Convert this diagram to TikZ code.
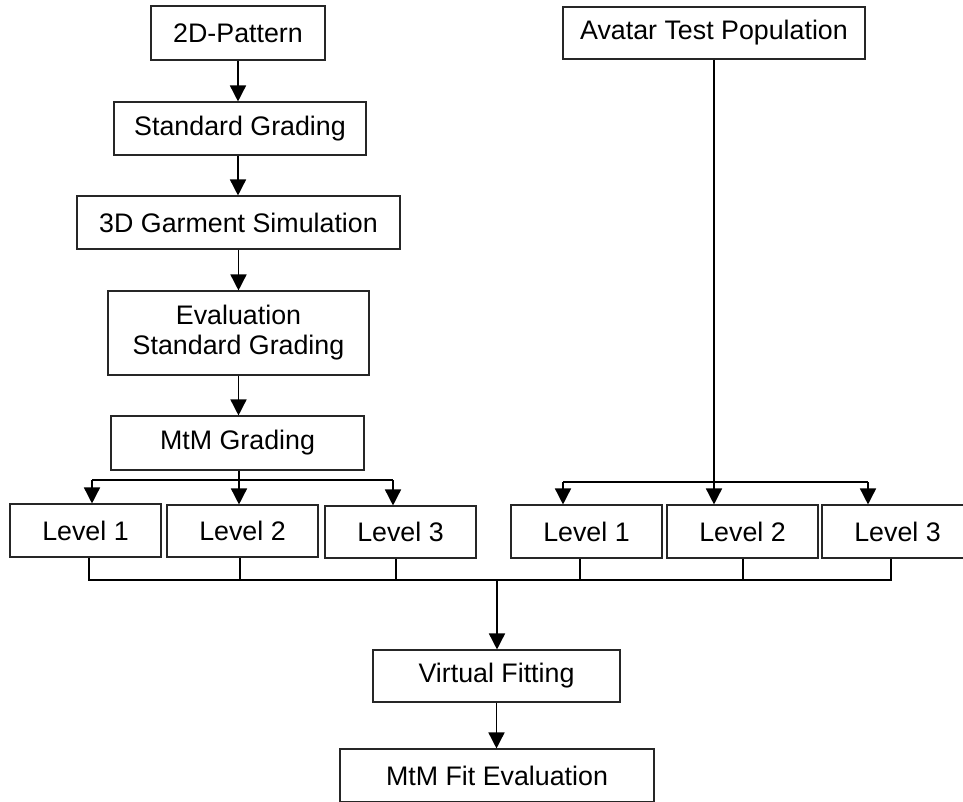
\documentclass[tikz,border=0pt]{standalone}
\usepackage{fontspec}
\setmainfont{Liberation Sans}
\usetikzlibrary{arrows.meta,calc}
\begin{document}
\begin{tikzpicture}[x=1pt,y=-1pt,
  box/.style={draw=black!85,line width=1.1pt,inner sep=0pt,align=center,font=\fontsize{26.8}{30}\selectfont},
  arr/.style={line width=1.5pt,-{Triangle[length=16pt,width=16pt]}},
  ln/.style={line width=1.5pt},
  bus/.style={line width=2.8pt}]
\useasboundingbox (0,0) rectangle (963,801);
\clip (0,0) rectangle (963,801);
\fill[white] (0,0) rectangle (963,801);
% left column
\node[box,minimum width=174pt,minimum height=54pt] (p2d) at (238,33) {2D-Pattern};
\node[box,minimum width=252pt,minimum height=53pt] (sg) at (240,128.5) {Standard Grading};
\node[box,minimum width=323pt,minimum height=53pt] (g3d) at (238.5,222.5) {3D Garment Simulation};
\node[box,minimum width=261pt,minimum height=84pt] (esg) at (238.5,333) {Evaluation\\Standard Grading};
\node[box,minimum width=253pt,minimum height=54pt] (mtm) at (237.5,443) {MtM Grading};
\node[box,minimum width=151pt,minimum height=53pt] (l1) at (85.5,530.5) {Level 1};
\node[box,minimum width=151pt,minimum height=52pt] (l2) at (242.5,531) {Level 2};
\node[box,minimum width=151pt,minimum height=52pt] (l3) at (400.5,532) {Level 3};
% right column
\node[box,minimum width=302pt,minimum height=52pt] (atp) at (714,33) {Avatar Test Population};
\node[box,minimum width=151pt,minimum height=53pt] (r1) at (586.5,531.5) {Level 1};
\node[box,minimum width=151pt,minimum height=53pt] (r2) at (742.5,531.5) {Level 2};
\node[box,minimum width=151pt,minimum height=53pt] (r3) at (897.5,531.5) {Level 3};
% bottom
\node[box,minimum width=247pt,minimum height=52pt] (vf) at (496.5,676) {Virtual Fitting};
\node[box,minimum width=314pt,minimum height=53pt] (mfe) at (497,775.5) {MtM Fit Evaluation};
% left chain
\draw[arr] (p2d.south) -- (p2d.south |- sg.north);
\draw[arr] (sg.south -| p2d.south) -- (p2d.south |- g3d.north);
\draw[arr] (g3d.south) -- (g3d.south |- esg.north);
\draw[arr] (esg.south) -- (esg.south |- mtm.north);
% left fan-out
\coordinate (lfl) at (92,480);
\coordinate (lfm) at (239,480);
\coordinate (lfr) at (393,480);
\draw[ln] (mtm.south -| lfm) -- (lfm);
\draw[ln] (lfl) -- (lfr);
\draw[arr] (lfl) -- (lfl |- l1.north);
\draw[arr] (lfm) -- (lfm |- l2.north);
\draw[arr] (lfr) -- (lfr |- l3.north);
% right fan-out
\coordinate (rfl) at (563,482);
\coordinate (rfm) at (714,482);
\coordinate (rfr) at (868,482);
\draw[arr] (atp.south) -- (atp.south |- r2.north);
\draw[ln] (rfl) -- (rfr);
\draw[arr] (rfl) -- (rfl |- r1.north);
\draw[arr] (rfr) -- (rfr |- r3.north);
% collecting bus
\coordinate (b1) at (89,580);
\coordinate (b2) at (240,580);
\coordinate (b3) at (396,580);
\coordinate (b4) at (580,580);
\coordinate (b5) at (743,580);
\coordinate (b6) at (891,580);
\coordinate (bm) at (497,580);
\draw[ln] (b1 |- l1.south) -- (b1);
\draw[ln] (b2 |- l2.south) -- (b2);
\draw[ln] (b3 |- l3.south) -- (b3);
\draw[ln] (b4 |- r1.south) -- (b4);
\draw[ln] (b5 |- r2.south) -- (b5);
\draw[ln] (b6 |- r3.south) -- (b6);
\draw[bus] ([xshift=-0.7pt]b1) -- ([xshift=0.7pt]b6);
\draw[arr] (bm) -- (bm |- vf.north);
\draw[arr] (vf.south) -- (vf.south |- mfe.north);
\end{tikzpicture}
\end{document}
